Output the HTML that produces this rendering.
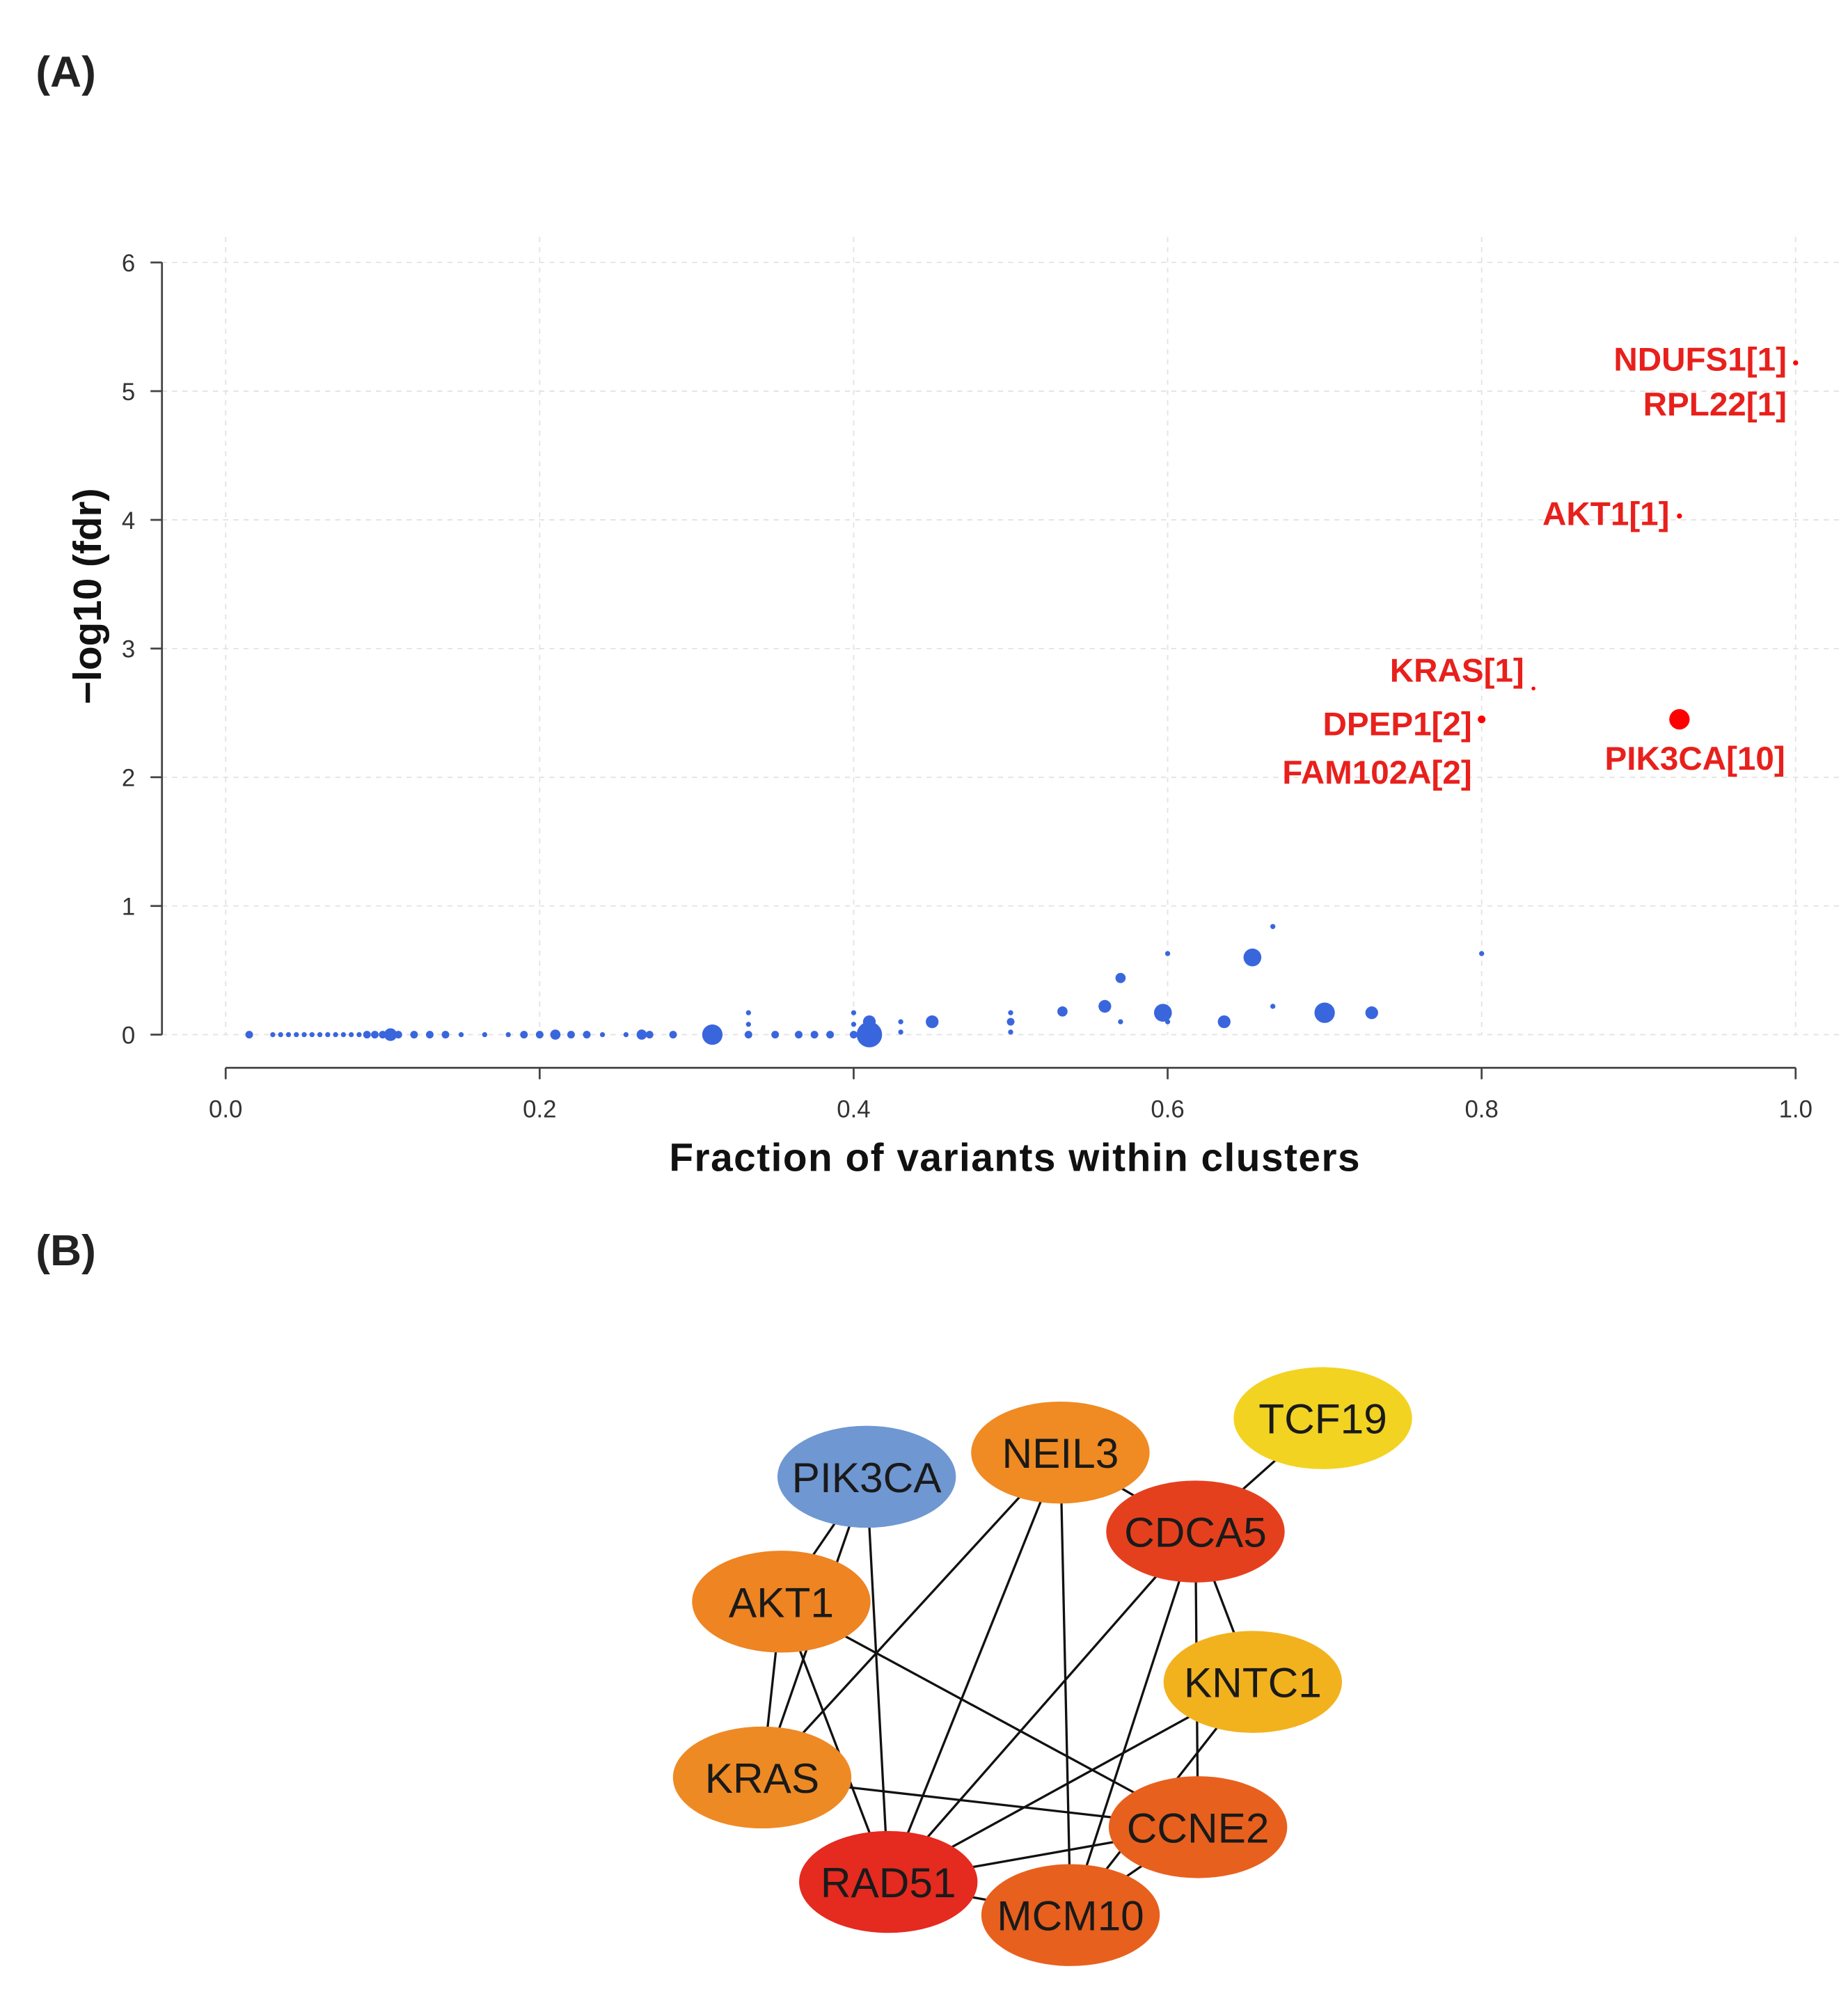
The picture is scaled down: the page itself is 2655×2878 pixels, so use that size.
<!DOCTYPE html>
<html><head><meta charset="utf-8"><style>
html,body{margin:0;padding:0;background:#fff;}
svg{display:block;font-family:"Liberation Sans",Arial,sans-serif;}
</style></head><body>
<svg id="fig" width="2655" height="2878" viewBox="0 0 1450 1572" xmlns="http://www.w3.org/2000/svg">
<text x="28" y="68" font-size="34" font-weight="bold" fill="#222">(A)</text>
<g id="plot"></g>
<text x="28" y="993" font-size="34" font-weight="bold" fill="#222">(B)</text>
<g id="net"></g>
</svg>
<script>
// ---- Chart data ----
const xTicks = [0.0, 0.2, 0.4, 0.6, 0.8, 1.0];
const xTickLabels = ["0.0","0.2","0.4","0.6","0.8","1.0"];
const yTicks = [0,1,2,3,4,5,6];
const blueX = [0.015,0.03,0.035,0.04,0.045,0.05,0.055,0.06,0.065,0.07,0.075,0.08,0.085,0.09,0.095,0.1,0.105,0.11,0.12,0.13,0.14,0.15,0.165,0.18,0.19,0.2,0.21,0.22,0.23,0.24,0.255,0.265,0.27,0.285,0.31,0.333,0.333,0.333,0.35,0.365,0.375,0.385,0.4,0.4,0.4,0.41,0.41,0.43,0.43,0.45,0.5,0.5,0.5,0.533,0.56,0.57,0.57,0.6,0.597,0.6,0.636,0.654,0.667,0.667,0.7,0.73,0.8];
const blueY = [0,0,0,0,0,0,0,0,0,0,0,0,0,0,0,0,0,0,0,0,0,0,0,0,0,0,0,0,0,0,0,0,0,0,0,0.17,0.08,0,0,0,0,0,0.17,0.08,0,0,0.1,0.1,0.02,0.1,0.17,0.1,0.02,0.18,0.22,0.44,0.1,0.63,0.17,0.1,0.1,0.6,0.84,0.22,0.17,0.17,0.63];
const blueSize = [3,2,2,2,2,2,2,2,2,2,2,2,2,3,3,3,5,3,3,3,3,2,2,2,3,3,4,3,3,2,2,4,3,3,8,2,2,3,3,3,3,3,2,2,3,10,5,2,2,5,2,3,2,4,5,4,2,2,7,2,5,7,2,2,8,5,2];
const redX = [1.0, 0.926, 0.833, 0.8, 0.926];
const redY = [5.22, 4.03, 2.69, 2.45, 2.45];
const redSize = [2, 2, 1.5, 3, 8];
const redLabels = ["NDUFS1[1]","RPL22[1]","AKT1[1]","KRAS[1]","DPEP1[2]","FAM102A[2]","PIK3CA[10]"];
const redLabelX = [1402,1402,1310,1196,1155,1155,1330];
const redLabelY = [291,326,412,535,577,615,604];
const redLabelAnchor = ["end","end","end","end","end","end","middle"];

const NS="http://www.w3.org/2000/svg";
function mk(tag,attrs,parent){const e=document.createElementNS(NS,tag);for(const k in attrs)e.setAttribute(k,attrs[k]);parent.appendChild(e);return e;}
const sx=v=>177+v*(1409-177);
const sy=v=>812-v*101;
const plot=document.getElementById('plot');

xTicks.forEach(t=>{const l=mk('line',{x1:sx(t),x2:sx(t),y1:186,y2:812,stroke:'#e3e3e3','stroke-dasharray':'4,4','stroke-width':1},plot);

});
yTicks.forEach(t=>{const l=mk('line',{x1:127,x2:1447,y1:sy(t),y2:sy(t),stroke:'#e3e3e3','stroke-dasharray':'4,4','stroke-width':1},plot);

});
let ya=mk('line',{x1:127,x2:127,y1:sy(6),y2:sy(0),stroke:'#444','stroke-width':1.5},plot);


yTicks.forEach(t=>{const tk=mk('line',{x1:118,x2:127,y1:sy(t),y2:sy(t),stroke:'#444','stroke-width':1.5},plot);


const tx=mk('text',{x:106,y:sy(t)+7,'font-size':19,'text-anchor':'end',fill:'#333'},plot);tx.textContent=t;

});
let xa=mk('line',{x1:sx(0),x2:sx(1),y1:838,y2:838,stroke:'#444','stroke-width':1.5},plot);


xTicks.forEach((t,i)=>{const tk=mk('line',{x1:sx(t),x2:sx(t),y1:838,y2:847,stroke:'#444','stroke-width':1.5},plot);


const tx=mk('text',{x:sx(t),y:877,'font-size':19,'text-anchor':'middle',fill:'#333'},plot);tx.textContent=xTickLabels[i];

});
let xt=mk('text',{x:796,y:919,'font-size':31,'font-weight':'bold','text-anchor':'middle',fill:'#111',textLength:542},plot);xt.textContent='Fraction of variants within clusters';


let yt=mk('text',{x:0,y:0,'font-size':31,'font-weight':'bold','text-anchor':'middle',fill:'#111',transform:'translate(79,468) rotate(-90)'},plot);yt.textContent='\u2212log10 (fdr)';


blueX.forEach((v,i)=>{const c=mk('circle',{cx:sx(v),cy:sy(blueY[i]),r:blueSize[i],fill:'#3a66dd'},plot);

});
redX.forEach((v,i)=>{const c=mk('circle',{cx:sx(v),cy:sy(redY[i]),r:redSize[i],fill:'#f00'},plot);

});
redLabels.forEach((s,i)=>{const t=mk('text',{x:redLabelX[i],y:redLabelY[i],'font-size':26,'font-weight':'bold','text-anchor':redLabelAnchor[i],fill:'#e8201c'},plot);t.textContent=s;

});

// ---- Network ----
const nodeNames=["TCF19","NEIL3","PIK3CA","CDCA5","AKT1","KNTC1","KRAS","CCNE2","RAD51","MCM10"];
const nodeX=[1038,832,680,938,613,983,598,940,697,840];
const nodeY=[1113,1140,1159,1202,1257,1320,1395,1434,1477,1503];
const nodeColor=["#f2d321","#f08a22","#6f97d2","#e5401e","#ee8422","#f2b21e","#ee8a24","#e8601e","#e52a20","#e8601e"];
const edges=[["PIK3CA","AKT1"],["PIK3CA","KRAS"],["PIK3CA","RAD51"],["AKT1","KRAS"],["AKT1","RAD51"],["AKT1","CCNE2"],["NEIL3","KRAS"],["NEIL3","RAD51"],["NEIL3","MCM10"],["NEIL3","CDCA5"],["TCF19","CDCA5"],["CDCA5","RAD51"],["CDCA5","MCM10"],["CDCA5","CCNE2"],["CDCA5","KNTC1"],["KNTC1","RAD51"],["KNTC1","MCM10"],["KRAS","CCNE2"],["RAD51","CCNE2"],["RAD51","MCM10"],["CCNE2","MCM10"]];
const net=document.getElementById('net');
edges.forEach(e=>{const a=nodeNames.indexOf(e[0]),b=nodeNames.indexOf(e[1]);
const l=mk('line',{x1:nodeX[a],y1:nodeY[a],x2:nodeX[b],y2:nodeY[b],stroke:'#111','stroke-width':1.8},net);

});
nodeNames.forEach((n,i)=>{const el=mk('ellipse',{cx:nodeX[i],cy:nodeY[i],rx:70,ry:40,fill:nodeColor[i]},net);


const t=mk('text',{x:nodeX[i],y:nodeY[i]+12,'font-size':33,'text-anchor':'middle',fill:'#1a1a1a'},net);t.textContent=n;

});
</script>
</body></html>
